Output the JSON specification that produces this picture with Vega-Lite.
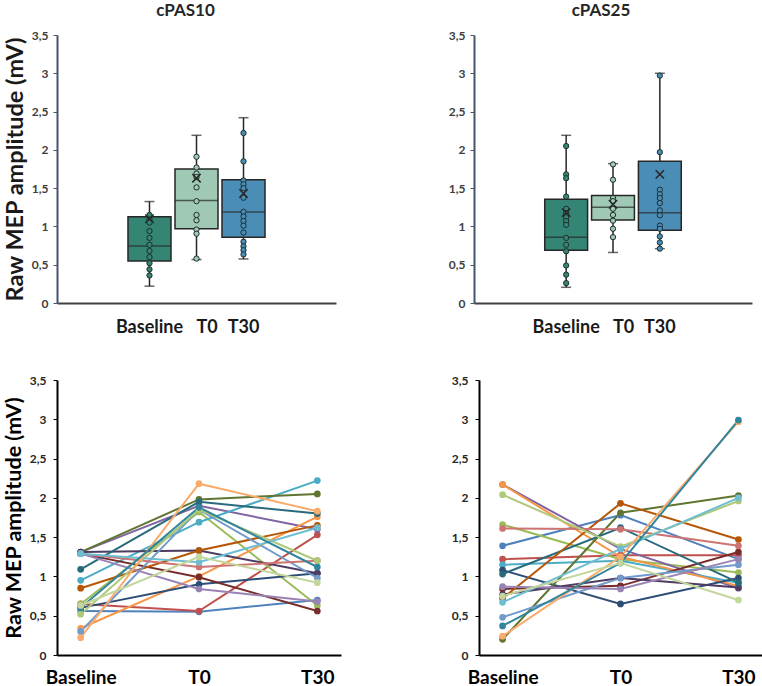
{
  "$schema": "https://vega.github.io/schema/vega-lite/v6.json",
  "padding": {"left": 3, "top": 2, "right": 0, "bottom": 0},
  "background": "white",
  "config": {
    "view": {"stroke": null},
    "font": "Lato",
    "axis": {"grid": false}
  },
  "datasets": {
    "boxstats": [
      {"panel": "cPAS10", "time": "Baseline", "min": 0.22, "q1": 0.55, "median": 0.745, "q3": 1.125, "max": 1.325, "mean": 1.1},
      {"panel": "cPAS10", "time": "T0", "min": 0.567, "q1": 0.97, "median": 1.34, "q3": 1.75, "max": 2.19, "mean": 1.63},
      {"panel": "cPAS10", "time": "T30", "min": 0.575, "q1": 0.86, "median": 1.19, "q3": 1.61, "max": 2.42, "mean": 1.43},
      {"panel": "cPAS25", "time": "Baseline", "min": 0.205, "q1": 0.69, "median": 0.86, "q3": 1.355, "max": 2.19, "mean": 1.18},
      {"panel": "cPAS25", "time": "T0", "min": 0.66, "q1": 1.085, "median": 1.25, "q3": 1.405, "max": 1.82, "mean": 1.29},
      {"panel": "cPAS25", "time": "T30", "min": 0.71, "q1": 0.95, "median": 1.18, "q3": 1.85, "max": 3.0, "mean": 1.68}
    ],
    "boxpts": [
      {"panel": "cPAS10", "time": "Baseline", "value": 1.15},
      {"panel": "cPAS10", "time": "Baseline", "value": 1.09},
      {"panel": "cPAS10", "time": "Baseline", "value": 1.05},
      {"panel": "cPAS10", "time": "Baseline", "value": 0.94},
      {"panel": "cPAS10", "time": "Baseline", "value": 0.85},
      {"panel": "cPAS10", "time": "Baseline", "value": 0.76},
      {"panel": "cPAS10", "time": "Baseline", "value": 0.68},
      {"panel": "cPAS10", "time": "Baseline", "value": 0.6},
      {"panel": "cPAS10", "time": "Baseline", "value": 0.52},
      {"panel": "cPAS10", "time": "Baseline", "value": 0.44},
      {"panel": "cPAS10", "time": "Baseline", "value": 0.36},
      {"panel": "cPAS10", "time": "T0", "value": 1.91},
      {"panel": "cPAS10", "time": "T0", "value": 1.77},
      {"panel": "cPAS10", "time": "T0", "value": 1.69},
      {"panel": "cPAS10", "time": "T0", "value": 1.645},
      {"panel": "cPAS10", "time": "T0", "value": 1.51},
      {"panel": "cPAS10", "time": "T0", "value": 1.33},
      {"panel": "cPAS10", "time": "T0", "value": 1.15},
      {"panel": "cPAS10", "time": "T0", "value": 1.08},
      {"panel": "cPAS10", "time": "T0", "value": 0.96},
      {"panel": "cPAS10", "time": "T0", "value": 0.905},
      {"panel": "cPAS10", "time": "T0", "value": 0.58},
      {"panel": "cPAS10", "time": "T30", "value": 2.22},
      {"panel": "cPAS10", "time": "T30", "value": 1.85},
      {"panel": "cPAS10", "time": "T30", "value": 1.6},
      {"panel": "cPAS10", "time": "T30", "value": 1.55},
      {"panel": "cPAS10", "time": "T30", "value": 1.5},
      {"panel": "cPAS10", "time": "T30", "value": 1.375},
      {"panel": "cPAS10", "time": "T30", "value": 1.19},
      {"panel": "cPAS10", "time": "T30", "value": 1.13},
      {"panel": "cPAS10", "time": "T30", "value": 1.07},
      {"panel": "cPAS10", "time": "T30", "value": 1.01},
      {"panel": "cPAS10", "time": "T30", "value": 0.92},
      {"panel": "cPAS10", "time": "T30", "value": 0.8},
      {"panel": "cPAS10", "time": "T30", "value": 0.74},
      {"panel": "cPAS10", "time": "T30", "value": 0.69},
      {"panel": "cPAS10", "time": "T30", "value": 0.635},
      {"panel": "cPAS25", "time": "Baseline", "value": 2.05},
      {"panel": "cPAS25", "time": "Baseline", "value": 1.68},
      {"panel": "cPAS25", "time": "Baseline", "value": 1.63},
      {"panel": "cPAS25", "time": "Baseline", "value": 1.39},
      {"panel": "cPAS25", "time": "Baseline", "value": 1.23},
      {"panel": "cPAS25", "time": "Baseline", "value": 1.175},
      {"panel": "cPAS25", "time": "Baseline", "value": 1.12},
      {"panel": "cPAS25", "time": "Baseline", "value": 1.07},
      {"panel": "cPAS25", "time": "Baseline", "value": 1.02},
      {"panel": "cPAS25", "time": "Baseline", "value": 0.85},
      {"panel": "cPAS25", "time": "Baseline", "value": 0.76},
      {"panel": "cPAS25", "time": "Baseline", "value": 0.675},
      {"panel": "cPAS25", "time": "Baseline", "value": 0.49},
      {"panel": "cPAS25", "time": "Baseline", "value": 0.37},
      {"panel": "cPAS25", "time": "Baseline", "value": 0.26},
      {"panel": "cPAS25", "time": "T0", "value": 1.81},
      {"panel": "cPAS25", "time": "T0", "value": 1.61},
      {"panel": "cPAS25", "time": "T0", "value": 1.37},
      {"panel": "cPAS25", "time": "T0", "value": 1.33},
      {"panel": "cPAS25", "time": "T0", "value": 1.23},
      {"panel": "cPAS25", "time": "T0", "value": 1.15},
      {"panel": "cPAS25", "time": "T0", "value": 1.075},
      {"panel": "cPAS25", "time": "T0", "value": 0.97},
      {"panel": "cPAS25", "time": "T0", "value": 0.86},
      {"panel": "cPAS25", "time": "T30", "value": 2.97},
      {"panel": "cPAS25", "time": "T30", "value": 1.97},
      {"panel": "cPAS25", "time": "T30", "value": 1.48},
      {"panel": "cPAS25", "time": "T30", "value": 1.42},
      {"panel": "cPAS25", "time": "T30", "value": 1.37},
      {"panel": "cPAS25", "time": "T30", "value": 1.305},
      {"panel": "cPAS25", "time": "T30", "value": 1.21},
      {"panel": "cPAS25", "time": "T30", "value": 1.145},
      {"panel": "cPAS25", "time": "T30", "value": 1.01},
      {"panel": "cPAS25", "time": "T30", "value": 0.97},
      {"panel": "cPAS25", "time": "T30", "value": 0.87},
      {"panel": "cPAS25", "time": "T30", "value": 0.79},
      {"panel": "cPAS25", "time": "T30", "value": 0.71}
    ],
    "lines": [
      {"panel": "cPAS10", "subject": "s1", "time": "Baseline", "value": 0.56}, {"panel": "cPAS10", "subject": "s1", "time": "T0", "value": 0.55}, {"panel": "cPAS10", "subject": "s1", "time": "T30", "value": 0.7},
      {"panel": "cPAS10", "subject": "s2", "time": "Baseline", "value": 0.65}, {"panel": "cPAS10", "subject": "s2", "time": "T0", "value": 0.56}, {"panel": "cPAS10", "subject": "s2", "time": "T30", "value": 1.53},
      {"panel": "cPAS10", "subject": "s3", "time": "Baseline", "value": 0.65}, {"panel": "cPAS10", "subject": "s3", "time": "T0", "value": 1.82}, {"panel": "cPAS10", "subject": "s3", "time": "T30", "value": 0.63},
      {"panel": "cPAS10", "subject": "s4", "time": "Baseline", "value": 1.31}, {"panel": "cPAS10", "subject": "s4", "time": "T0", "value": 1.9}, {"panel": "cPAS10", "subject": "s4", "time": "T30", "value": 1.6},
      {"panel": "cPAS10", "subject": "s5", "time": "Baseline", "value": 0.95}, {"panel": "cPAS10", "subject": "s5", "time": "T0", "value": 1.69}, {"panel": "cPAS10", "subject": "s5", "time": "T30", "value": 2.22},
      {"panel": "cPAS10", "subject": "s6", "time": "Baseline", "value": 0.34}, {"panel": "cPAS10", "subject": "s6", "time": "T0", "value": 1.0}, {"panel": "cPAS10", "subject": "s6", "time": "T30", "value": 1.76},
      {"panel": "cPAS10", "subject": "s7", "time": "Baseline", "value": 0.6}, {"panel": "cPAS10", "subject": "s7", "time": "T0", "value": 0.9}, {"panel": "cPAS10", "subject": "s7", "time": "T30", "value": 1.04},
      {"panel": "cPAS10", "subject": "s8", "time": "Baseline", "value": 1.29}, {"panel": "cPAS10", "subject": "s8", "time": "T0", "value": 0.99}, {"panel": "cPAS10", "subject": "s8", "time": "T30", "value": 0.56},
      {"panel": "cPAS10", "subject": "s9", "time": "Baseline", "value": 1.31}, {"panel": "cPAS10", "subject": "s9", "time": "T0", "value": 1.98}, {"panel": "cPAS10", "subject": "s9", "time": "T30", "value": 2.05},
      {"panel": "cPAS10", "subject": "s10", "time": "Baseline", "value": 1.31}, {"panel": "cPAS10", "subject": "s10", "time": "T0", "value": 1.33}, {"panel": "cPAS10", "subject": "s10", "time": "T30", "value": 1.04},
      {"panel": "cPAS10", "subject": "s11", "time": "Baseline", "value": 1.09}, {"panel": "cPAS10", "subject": "s11", "time": "T0", "value": 1.95}, {"panel": "cPAS10", "subject": "s11", "time": "T30", "value": 1.8},
      {"panel": "cPAS10", "subject": "s12", "time": "Baseline", "value": 0.85}, {"panel": "cPAS10", "subject": "s12", "time": "T0", "value": 1.33}, {"panel": "cPAS10", "subject": "s12", "time": "T30", "value": 1.65},
      {"panel": "cPAS10", "subject": "s13", "time": "Baseline", "value": 0.3}, {"panel": "cPAS10", "subject": "s13", "time": "T0", "value": 1.85}, {"panel": "cPAS10", "subject": "s13", "time": "T30", "value": 0.98},
      {"panel": "cPAS10", "subject": "s14", "time": "Baseline", "value": 1.29}, {"panel": "cPAS10", "subject": "s14", "time": "T0", "value": 1.12}, {"panel": "cPAS10", "subject": "s14", "time": "T30", "value": 1.2},
      {"panel": "cPAS10", "subject": "s15", "time": "Baseline", "value": 0.52}, {"panel": "cPAS10", "subject": "s15", "time": "T0", "value": 1.85}, {"panel": "cPAS10", "subject": "s15", "time": "T30", "value": 1.2},
      {"panel": "cPAS10", "subject": "s16", "time": "Baseline", "value": 1.29}, {"panel": "cPAS10", "subject": "s16", "time": "T0", "value": 0.84}, {"panel": "cPAS10", "subject": "s16", "time": "T30", "value": 0.68},
      {"panel": "cPAS10", "subject": "s17", "time": "Baseline", "value": 1.29}, {"panel": "cPAS10", "subject": "s17", "time": "T0", "value": 1.18}, {"panel": "cPAS10", "subject": "s17", "time": "T30", "value": 1.62},
      {"panel": "cPAS10", "subject": "s18", "time": "Baseline", "value": 0.22}, {"panel": "cPAS10", "subject": "s18", "time": "T0", "value": 2.18}, {"panel": "cPAS10", "subject": "s18", "time": "T30", "value": 1.83},
      {"panel": "cPAS10", "subject": "s19", "time": "Baseline", "value": 0.6}, {"panel": "cPAS10", "subject": "s19", "time": "T0", "value": 1.88}, {"panel": "cPAS10", "subject": "s19", "time": "T30", "value": 1.12},
      {"panel": "cPAS10", "subject": "s20", "time": "Baseline", "value": 0.63}, {"panel": "cPAS10", "subject": "s20", "time": "T0", "value": 1.25}, {"panel": "cPAS10", "subject": "s20", "time": "T30", "value": 0.92},
      {"panel": "cPAS25", "subject": "s1", "time": "Baseline", "value": 1.39}, {"panel": "cPAS25", "subject": "s1", "time": "T0", "value": 1.78}, {"panel": "cPAS25", "subject": "s1", "time": "T30", "value": 1.22},
      {"panel": "cPAS25", "subject": "s2", "time": "Baseline", "value": 1.22}, {"panel": "cPAS25", "subject": "s2", "time": "T0", "value": 1.27}, {"panel": "cPAS25", "subject": "s2", "time": "T30", "value": 1.27},
      {"panel": "cPAS25", "subject": "s3", "time": "Baseline", "value": 1.66}, {"panel": "cPAS25", "subject": "s3", "time": "T0", "value": 1.22}, {"panel": "cPAS25", "subject": "s3", "time": "T30", "value": 1.05},
      {"panel": "cPAS25", "subject": "s4", "time": "Baseline", "value": 2.17}, {"panel": "cPAS25", "subject": "s4", "time": "T0", "value": 1.35}, {"panel": "cPAS25", "subject": "s4", "time": "T30", "value": 0.85},
      {"panel": "cPAS25", "subject": "s5", "time": "Baseline", "value": 1.15}, {"panel": "cPAS25", "subject": "s5", "time": "T0", "value": 1.2}, {"panel": "cPAS25", "subject": "s5", "time": "T30", "value": 0.92},
      {"panel": "cPAS25", "subject": "s6", "time": "Baseline", "value": 2.17}, {"panel": "cPAS25", "subject": "s6", "time": "T0", "value": 1.25}, {"panel": "cPAS25", "subject": "s6", "time": "T30", "value": 0.88},
      {"panel": "cPAS25", "subject": "s7", "time": "Baseline", "value": 1.08}, {"panel": "cPAS25", "subject": "s7", "time": "T0", "value": 0.65}, {"panel": "cPAS25", "subject": "s7", "time": "T30", "value": 0.98},
      {"panel": "cPAS25", "subject": "s8", "time": "Baseline", "value": 0.84}, {"panel": "cPAS25", "subject": "s8", "time": "T0", "value": 0.88}, {"panel": "cPAS25", "subject": "s8", "time": "T30", "value": 1.31},
      {"panel": "cPAS25", "subject": "s9", "time": "Baseline", "value": 0.2}, {"panel": "cPAS25", "subject": "s9", "time": "T0", "value": 1.81}, {"panel": "cPAS25", "subject": "s9", "time": "T30", "value": 2.03},
      {"panel": "cPAS25", "subject": "s10", "time": "Baseline", "value": 0.77}, {"panel": "cPAS25", "subject": "s10", "time": "T0", "value": 0.98}, {"panel": "cPAS25", "subject": "s10", "time": "T30", "value": 0.86},
      {"panel": "cPAS25", "subject": "s11", "time": "Baseline", "value": 1.03}, {"panel": "cPAS25", "subject": "s11", "time": "T0", "value": 1.62}, {"panel": "cPAS25", "subject": "s11", "time": "T30", "value": 0.92},
      {"panel": "cPAS25", "subject": "s12", "time": "Baseline", "value": 0.72}, {"panel": "cPAS25", "subject": "s12", "time": "T0", "value": 1.93}, {"panel": "cPAS25", "subject": "s12", "time": "T30", "value": 1.47},
      {"panel": "cPAS25", "subject": "s13", "time": "Baseline", "value": 0.48}, {"panel": "cPAS25", "subject": "s13", "time": "T0", "value": 0.98}, {"panel": "cPAS25", "subject": "s13", "time": "T30", "value": 1.15},
      {"panel": "cPAS25", "subject": "s14", "time": "Baseline", "value": 1.61}, {"panel": "cPAS25", "subject": "s14", "time": "T0", "value": 1.6}, {"panel": "cPAS25", "subject": "s14", "time": "T30", "value": 1.39},
      {"panel": "cPAS25", "subject": "s15", "time": "Baseline", "value": 2.04}, {"panel": "cPAS25", "subject": "s15", "time": "T0", "value": 1.38}, {"panel": "cPAS25", "subject": "s15", "time": "T30", "value": 1.96},
      {"panel": "cPAS25", "subject": "s16", "time": "Baseline", "value": 0.87}, {"panel": "cPAS25", "subject": "s16", "time": "T0", "value": 0.84}, {"panel": "cPAS25", "subject": "s16", "time": "T30", "value": 1.22},
      {"panel": "cPAS25", "subject": "s17", "time": "Baseline", "value": 0.67}, {"panel": "cPAS25", "subject": "s17", "time": "T0", "value": 1.35}, {"panel": "cPAS25", "subject": "s17", "time": "T30", "value": 2.0},
      {"panel": "cPAS25", "subject": "s18", "time": "Baseline", "value": 0.24}, {"panel": "cPAS25", "subject": "s18", "time": "T0", "value": 1.25}, {"panel": "cPAS25", "subject": "s18", "time": "T30", "value": 2.97},
      {"panel": "cPAS25", "subject": "s19", "time": "Baseline", "value": 0.37}, {"panel": "cPAS25", "subject": "s19", "time": "T0", "value": 1.17}, {"panel": "cPAS25", "subject": "s19", "time": "T30", "value": 2.99},
      {"panel": "cPAS25", "subject": "s20", "time": "Baseline", "value": 0.75}, {"panel": "cPAS25", "subject": "s20", "time": "T0", "value": 1.17}, {"panel": "cPAS25", "subject": "s20", "time": "T30", "value": 0.7}
    ]
  },
  "vconcat": [
    {
      "bounds": "flush",
      "spacing": 138,
      "hconcat": [
        {
          "title": {"text": "cPAS10", "fontSize": 17, "fontWeight": "bold", "frame": "group", "dx": -11, "offset": 9, "color": "#262626", "font": "Lato"},
          "width": 279,
          "height": 268,
          "encoding": {
            "x": {"field": "time", "type": "nominal",
              "scale": {"type": "band", "domain": ["pre", "Baseline", "T0", "T30", "post"], "paddingInner": 0.085, "paddingOuter": 0.51},
              "axis": {"title": null, "labelAngle": 0, "labelFontSize": 18, "labelFontWeight": "bold", "labelColor": "#1a1a1a", "labelPadding": 15, "ticks": false, "domainColor": "#404040", "domainWidth": 2, "labelOverlap": false,
                "labelAlign": {"condition": {"test": "datum.label === 'T0'", "value": "left"}, "value": "center"},
                "labelExpr": "indexof(['Baseline', 'T0', 'T30'], datum.label) >= 0 ? datum.label : ''"}}
          },
          "layer": [
            {
              "data": {"name": "boxstats"},
              "transform": [{"filter": "datum.panel === 'cPAS10'"}],
              "mark": {"type": "rule", "color": "#262626", "strokeWidth": 1.5},
              "encoding": {
                "y": {"field": "min", "type": "quantitative", "scale": {"domain": [0, 3.5], "nice": false},
                  "axis": {"title": "Raw MEP amplitude (mV)", "titleFontSize": 23.5, "titleFontWeight": "bold", "titleColor": "#1a1a1a", "titlePadding": 3.5, "values": [0, 0.5, 1, 1.5, 2, 2.5, 3, 3.5], "labelExpr": "replace(format(datum.value, '.1~f'), '.', ',')", "labelFontSize": 12, "labelFontWeight": "bold", "labelColor": "#404040", "labelPadding": 5, "tickSize": 4, "tickColor": "#44546A", "domainColor": "#44546A", "domainWidth": 2}},
                "y2": {"field": "max"}
              }
            },
            {
              "data": {"name": "boxstats"},
              "transform": [{"filter": "datum.panel === 'cPAS10'"}],
              "mark": {"type": "tick", "color": "#262626", "thickness": 1.5, "size": 10},
              "encoding": {"y": {"field": "min", "type": "quantitative",
                "axis": {"title": "Raw MEP amplitude (mV)", "titleFontSize": 23.5, "titleFontWeight": "bold", "titleColor": "#1a1a1a", "titlePadding": 3.5, "values": [0, 0.5, 1, 1.5, 2, 2.5, 3, 3.5], "labelExpr": "replace(format(datum.value, '.1~f'), '.', ',')", "labelFontSize": 12, "labelFontWeight": "bold", "labelColor": "#404040", "labelPadding": 5, "tickSize": 4, "tickColor": "#44546A", "domainColor": "#44546A", "domainWidth": 2}}}
            },
            {
              "data": {"name": "boxstats"},
              "transform": [{"filter": "datum.panel === 'cPAS10'"}],
              "mark": {"type": "tick", "color": "#262626", "thickness": 1.5, "size": 10},
              "encoding": {"y": {"field": "max", "type": "quantitative",
                "axis": {"title": "Raw MEP amplitude (mV)", "titleFontSize": 23.5, "titleFontWeight": "bold", "titleColor": "#1a1a1a", "titlePadding": 3.5, "values": [0, 0.5, 1, 1.5, 2, 2.5, 3, 3.5], "labelExpr": "replace(format(datum.value, '.1~f'), '.', ',')", "labelFontSize": 12, "labelFontWeight": "bold", "labelColor": "#404040", "labelPadding": 5, "tickSize": 4, "tickColor": "#44546A", "domainColor": "#44546A", "domainWidth": 2}}}
            },
            {
              "data": {"name": "boxstats"},
              "transform": [{"filter": "datum.panel === 'cPAS10'"}],
              "mark": {"type": "bar", "stroke": "#262626", "strokeWidth": 1.5},
              "encoding": {
                "y": {"field": "q1", "type": "quantitative",
                  "axis": {"title": "Raw MEP amplitude (mV)", "titleFontSize": 23.5, "titleFontWeight": "bold", "titleColor": "#1a1a1a", "titlePadding": 3.5, "values": [0, 0.5, 1, 1.5, 2, 2.5, 3, 3.5], "labelExpr": "replace(format(datum.value, '.1~f'), '.', ',')", "labelFontSize": 12, "labelFontWeight": "bold", "labelColor": "#404040", "labelPadding": 5, "tickSize": 4, "tickColor": "#44546A", "domainColor": "#44546A", "domainWidth": 2}},
                "y2": {"field": "q3"},
                "fill": {"field": "time", "type": "nominal", "scale": {"domain": ["Baseline", "T0", "T30"], "range": ["#358574", "#9fc9b5", "#4a8db7"]}, "legend": null}
              }
            },
            {
              "data": {"name": "boxstats"},
              "transform": [{"filter": "datum.panel === 'cPAS10'"}],
              "mark": {"type": "tick", "color": "#262626", "thickness": 1.5, "size": 43},
              "encoding": {"y": {"field": "median", "type": "quantitative",
                "axis": {"title": "Raw MEP amplitude (mV)", "titleFontSize": 23.5, "titleFontWeight": "bold", "titleColor": "#1a1a1a", "titlePadding": 3.5, "values": [0, 0.5, 1, 1.5, 2, 2.5, 3, 3.5], "labelExpr": "replace(format(datum.value, '.1~f'), '.', ',')", "labelFontSize": 12, "labelFontWeight": "bold", "labelColor": "#404040", "labelPadding": 5, "tickSize": 4, "tickColor": "#44546A", "domainColor": "#44546A", "domainWidth": 2}}}
            },
            {
              "data": {"name": "boxpts"},
              "transform": [{"filter": "datum.panel === 'cPAS10'"}],
              "mark": {"type": "point", "filled": true, "stroke": "#1f2d2d", "strokeWidth": 1, "size": 28, "opacity": 1},
              "encoding": {
                "y": {"field": "value", "type": "quantitative",
                  "axis": {"title": "Raw MEP amplitude (mV)", "titleFontSize": 23.5, "titleFontWeight": "bold", "titleColor": "#1a1a1a", "titlePadding": 3.5, "values": [0, 0.5, 1, 1.5, 2, 2.5, 3, 3.5], "labelExpr": "replace(format(datum.value, '.1~f'), '.', ',')", "labelFontSize": 12, "labelFontWeight": "bold", "labelColor": "#404040", "labelPadding": 5, "tickSize": 4, "tickColor": "#44546A", "domainColor": "#44546A", "domainWidth": 2}},
                "fill": {"field": "time", "type": "nominal", "legend": null}
              }
            },
            {
              "data": {"name": "boxstats"},
              "transform": [{"filter": "datum.panel === 'cPAS10'"}],
              "mark": {"type": "point", "shape": "M-1,-1L1,1M-1,1L1,-1", "filled": false, "stroke": "#262626", "strokeWidth": 1.5, "size": 70, "opacity": 1},
              "encoding": {"y": {"field": "mean", "type": "quantitative",
                "axis": {"title": "Raw MEP amplitude (mV)", "titleFontSize": 23.5, "titleFontWeight": "bold", "titleColor": "#1a1a1a", "titlePadding": 3.5, "values": [0, 0.5, 1, 1.5, 2, 2.5, 3, 3.5], "labelExpr": "replace(format(datum.value, '.1~f'), '.', ',')", "labelFontSize": 12, "labelFontWeight": "bold", "labelColor": "#404040", "labelPadding": 5, "tickSize": 4, "tickColor": "#44546A", "domainColor": "#44546A", "domainWidth": 2}}}
            }
          ]
        },
        {
          "title": {"text": "cPAS25", "fontSize": 17, "fontWeight": "bold", "frame": "group", "dx": -12, "offset": 9, "color": "#262626", "font": "Lato"},
          "width": 278,
          "height": 268,
          "encoding": {
            "x": {"field": "time", "type": "nominal",
              "scale": {"type": "band", "domain": ["pre", "Baseline", "T0", "T30", "post"], "paddingInner": 0.085, "paddingOuter": 0.51},
              "axis": {"title": null, "labelAngle": 0, "labelFontSize": 18, "labelFontWeight": "bold", "labelColor": "#1a1a1a", "labelPadding": 15, "ticks": false, "domainColor": "#404040", "domainWidth": 2, "labelOverlap": false,
                "labelAlign": {"condition": {"test": "datum.label === 'T0'", "value": "left"}, "value": "center"},
                "labelExpr": "indexof(['Baseline', 'T0', 'T30'], datum.label) >= 0 ? datum.label : ''"}}
          },
          "layer": [
            {
              "data": {"name": "boxstats"},
              "transform": [{"filter": "datum.panel === 'cPAS25'"}],
              "mark": {"type": "rule", "color": "#262626", "strokeWidth": 1.5},
              "encoding": {
                "y": {"field": "min", "type": "quantitative", "scale": {"domain": [0, 3.5], "nice": false},
                  "axis": {"title": null, "values": [0, 0.5, 1, 1.5, 2, 2.5, 3, 3.5], "labelExpr": "replace(format(datum.value, '.1~f'), '.', ',')", "labelFontSize": 12, "labelFontWeight": "bold", "labelColor": "#404040", "labelPadding": 5, "tickSize": 4, "tickColor": "#44546A", "domainColor": "#44546A", "domainWidth": 2}},
                "y2": {"field": "max"}
              }
            },
            {
              "data": {"name": "boxstats"},
              "transform": [{"filter": "datum.panel === 'cPAS25'"}],
              "mark": {"type": "tick", "color": "#262626", "thickness": 1.5, "size": 10},
              "encoding": {"y": {"field": "min", "type": "quantitative",
                "axis": {"title": null, "values": [0, 0.5, 1, 1.5, 2, 2.5, 3, 3.5], "labelExpr": "replace(format(datum.value, '.1~f'), '.', ',')", "labelFontSize": 12, "labelFontWeight": "bold", "labelColor": "#404040", "labelPadding": 5, "tickSize": 4, "tickColor": "#44546A", "domainColor": "#44546A", "domainWidth": 2}}}
            },
            {
              "data": {"name": "boxstats"},
              "transform": [{"filter": "datum.panel === 'cPAS25'"}],
              "mark": {"type": "tick", "color": "#262626", "thickness": 1.5, "size": 10},
              "encoding": {"y": {"field": "max", "type": "quantitative",
                "axis": {"title": null, "values": [0, 0.5, 1, 1.5, 2, 2.5, 3, 3.5], "labelExpr": "replace(format(datum.value, '.1~f'), '.', ',')", "labelFontSize": 12, "labelFontWeight": "bold", "labelColor": "#404040", "labelPadding": 5, "tickSize": 4, "tickColor": "#44546A", "domainColor": "#44546A", "domainWidth": 2}}}
            },
            {
              "data": {"name": "boxstats"},
              "transform": [{"filter": "datum.panel === 'cPAS25'"}],
              "mark": {"type": "bar", "stroke": "#262626", "strokeWidth": 1.5},
              "encoding": {
                "y": {"field": "q1", "type": "quantitative",
                  "axis": {"title": null, "values": [0, 0.5, 1, 1.5, 2, 2.5, 3, 3.5], "labelExpr": "replace(format(datum.value, '.1~f'), '.', ',')", "labelFontSize": 12, "labelFontWeight": "bold", "labelColor": "#404040", "labelPadding": 5, "tickSize": 4, "tickColor": "#44546A", "domainColor": "#44546A", "domainWidth": 2}},
                "y2": {"field": "q3"},
                "fill": {"field": "time", "type": "nominal", "scale": {"domain": ["Baseline", "T0", "T30"], "range": ["#358574", "#9fc9b5", "#4a8db7"]}, "legend": null}
              }
            },
            {
              "data": {"name": "boxstats"},
              "transform": [{"filter": "datum.panel === 'cPAS25'"}],
              "mark": {"type": "tick", "color": "#262626", "thickness": 1.5, "size": 43},
              "encoding": {"y": {"field": "median", "type": "quantitative",
                "axis": {"title": null, "values": [0, 0.5, 1, 1.5, 2, 2.5, 3, 3.5], "labelExpr": "replace(format(datum.value, '.1~f'), '.', ',')", "labelFontSize": 12, "labelFontWeight": "bold", "labelColor": "#404040", "labelPadding": 5, "tickSize": 4, "tickColor": "#44546A", "domainColor": "#44546A", "domainWidth": 2}}}
            },
            {
              "data": {"name": "boxpts"},
              "transform": [{"filter": "datum.panel === 'cPAS25'"}],
              "mark": {"type": "point", "filled": true, "stroke": "#1f2d2d", "strokeWidth": 1, "size": 28, "opacity": 1},
              "encoding": {
                "y": {"field": "value", "type": "quantitative",
                  "axis": {"title": null, "values": [0, 0.5, 1, 1.5, 2, 2.5, 3, 3.5], "labelExpr": "replace(format(datum.value, '.1~f'), '.', ',')", "labelFontSize": 12, "labelFontWeight": "bold", "labelColor": "#404040", "labelPadding": 5, "tickSize": 4, "tickColor": "#44546A", "domainColor": "#44546A", "domainWidth": 2}},
                "fill": {"field": "time", "type": "nominal", "legend": null}
              }
            },
            {
              "data": {"name": "boxstats"},
              "transform": [{"filter": "datum.panel === 'cPAS25'"}],
              "mark": {"type": "point", "shape": "M-1,-1L1,1M-1,1L1,-1", "filled": false, "stroke": "#262626", "strokeWidth": 1.5, "size": 70, "opacity": 1},
              "encoding": {"y": {"field": "mean", "type": "quantitative",
                "axis": {"title": null, "values": [0, 0.5, 1, 1.5, 2, 2.5, 3, 3.5], "labelExpr": "replace(format(datum.value, '.1~f'), '.', ',')", "labelFontSize": 12, "labelFontWeight": "bold", "labelColor": "#404040", "labelPadding": 5, "tickSize": 4, "tickColor": "#44546A", "domainColor": "#44546A", "domainWidth": 2}}}
            }
          ]
        }
      ]
    },
    {
      "bounds": "flush",
      "spacing": 138,
      "hconcat": [
        {
          "width": 284,
          "height": 275,
          "data": {"name": "lines"},
          "transform": [{"filter": "datum.panel === 'cPAS10'"}],
          "encoding": {
            "x": {"field": "time", "type": "nominal", "sort": ["Baseline", "T0", "T30"],
              "scale": {"type": "point", "domain": ["Baseline", "T0", "T30"], "padding": 0.2},
              "axis": {"title": null, "labelAngle": 0, "labelFontSize": 19, "labelFontWeight": "bold", "labelColor": "#000000", "labelPadding": 13, "ticks": false, "domainColor": "#000000", "domainWidth": 2}},
            "y": {"field": "value", "type": "quantitative", "scale": {"domain": [0, 3.5], "nice": false},
              "axis": {"title": "Raw MEP amplitude (mV)", "titleFontSize": 21.5, "titleFontWeight": "bold", "titleColor": "#000000", "titlePadding": 4,
                "values": [0, 0.5, 1, 1.5, 2, 2.5, 3, 3.5], "labelExpr": "replace(format(datum.value, '.1~f'), '.', ',')",
                "labelFontSize": 12, "labelFontWeight": "bold", "labelColor": "#262626", "labelPadding": 7, "tickSize": 4, "tickColor": "#000000", "domainColor": "#000000", "domainWidth": 2}},
            "color": {"field": "subject", "type": "nominal", "legend": null,
              "scale": {"domain": ["s1","s2","s3","s4","s5","s6","s7","s8","s9","s10","s11","s12","s13","s14","s15","s16","s17","s18","s19","s20"],
                "range": ["#4F81BD","#C0504D","#9BBB59","#8064A2","#4BACC6","#F79646","#2C4D75","#772C2A","#5F7530","#4D3B62","#276A7C","#B65708","#729ACA","#CD7371","#AFC97A","#9983B5","#6FBDD1","#F9AB6B","#31859C","#C3D69B"]}}
          },
          "layer": [
            {"mark": {"type": "line", "strokeWidth": 2}},
            {"mark": {"type": "point", "filled": true, "size": 45, "opacity": 1}}
          ]
        },
        {
          "width": 283,
          "height": 275,
          "data": {"name": "lines"},
          "transform": [{"filter": "datum.panel === 'cPAS25'"}],
          "encoding": {
            "x": {"field": "time", "type": "nominal", "sort": ["Baseline", "T0", "T30"],
              "scale": {"type": "point", "domain": ["Baseline", "T0", "T30"], "padding": 0.2},
              "axis": {"title": null, "labelAngle": 0, "labelFontSize": 19, "labelFontWeight": "bold", "labelColor": "#000000", "labelPadding": 13, "ticks": false, "domainColor": "#000000", "domainWidth": 2}},
            "y": {"field": "value", "type": "quantitative", "scale": {"domain": [0, 3.5], "nice": false},
              "axis": {"title": null,
                "values": [0, 0.5, 1, 1.5, 2, 2.5, 3, 3.5], "labelExpr": "replace(format(datum.value, '.1~f'), '.', ',')",
                "labelFontSize": 12, "labelFontWeight": "bold", "labelColor": "#262626", "labelPadding": 7, "tickSize": 4, "tickColor": "#000000", "domainColor": "#000000", "domainWidth": 2}},
            "color": {"field": "subject", "type": "nominal", "legend": null,
              "scale": {"domain": ["s1","s2","s3","s4","s5","s6","s7","s8","s9","s10","s11","s12","s13","s14","s15","s16","s17","s18","s19","s20"],
                "range": ["#4F81BD","#C0504D","#9BBB59","#8064A2","#4BACC6","#F79646","#2C4D75","#772C2A","#5F7530","#4D3B62","#276A7C","#B65708","#729ACA","#CD7371","#AFC97A","#9983B5","#6FBDD1","#F9AB6B","#31859C","#C3D69B"]}}
          },
          "layer": [
            {"mark": {"type": "line", "strokeWidth": 2}},
            {"mark": {"type": "point", "filled": true, "size": 45, "opacity": 1}}
          ]
        }
      ]
    }
  ],
  "spacing": 38
}
